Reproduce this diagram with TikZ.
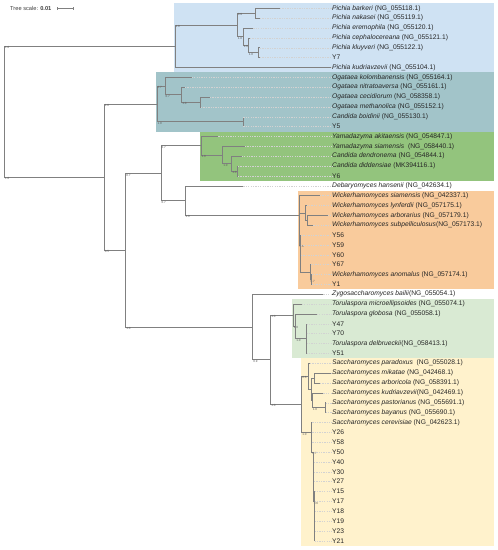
\documentclass[tikz,border=0pt]{standalone}
\usepackage{fontspec}
\setmainfont{Liberation Sans}
\definecolor{cblue}{HTML}{CFE2F3}
\definecolor{cteal}{HTML}{A2C4C9}
\definecolor{cgreen}{HTML}{93C47D}
\definecolor{corange}{HTML}{F9CB9C}
\definecolor{clgreen}{HTML}{D9EAD3}
\definecolor{cyellow}{HTML}{FFF2CC}
\definecolor{brc}{HTML}{808080}
\definecolor{dshc}{HTML}{D2D2D2}
\tikzset{
 br/.style={draw=brc, line width=0.55pt},
 dsh/.style={draw=dshc, line width=0.4pt, dash pattern=on 1.3pt off 1.1pt},
 leaflab/.style={anchor=west, inner sep=0pt, font=\fontsize{6.7}{7}\selectfont, text=black!85},
 bs/.style={anchor=north west, inner sep=0.4pt, font=\fontsize{3}{3}\selectfont, text=black!65},
}
\newcommand\mkleaf[4]{%
  \coordinate (t#1) at (#3,{8.3+9.86*#1});
  \node[leaflab] (l#1) at (332,{8.3+9.86*#1}) {#4};
  \draw[br] (#2) |- (t#1);
  \draw[dsh] (t#1) -- (l#1.west);
}
\newcommand\mkedge[3]{\draw[br] (#1) |- (#2); \node[bs] at (#1 |- #2) {#3};}
\newcommand\mkedgeN[2]{\draw[br] (#1) |- (#2);}
\begin{document}
\begin{tikzpicture}[x=1pt,y=-1pt]
\useasboundingbox (0,0) rectangle (498,550);
\fill[white] (0,0) rectangle (498,550);
% clade backgrounds
\fill[cblue]   (174,3.4)   rectangle (494,72.4);
\fill[cteal]   (156,72.4)  rectangle (494,131.55);
\fill[cgreen]  (200,131.55) rectangle (494,180.85);
\fill[corange] (298,190.7) rectangle (494,289.3);
\fill[clgreen] (292.3,299.2) rectangle (494,358.3);
\fill[cyellow] (300.7,358.3) rectangle (494,545.7);
% tree scale
\node[anchor=west, inner sep=0pt, font=\fontsize{5.7}{6}\selectfont, text=black!75] (ts) at (10,8.5) {Tree scale: \textbf{0.01}};
\coordinate (sb1) at (57,8.5);
\coordinate (sb2) at (73,8.5);
\draw[br] (sb1) -- (sb2);
\draw[br] ([yshift=-1.3pt]sb1) -- ([yshift=1.3pt]sb1);
\draw[br] ([yshift=-1.3pt]sb2) -- ([yshift=1.3pt]sb2);
% internal nodes
\coordinate (R) at (4.5,111.6);
\coordinate (PC) at (175,46.2);
\coordinate (PS) at (237.3,24.94);
\coordinate (BN) at (255,13.23);
\coordinate (ER) at (243.3,36.65);
\coordinate (CP) at (248.3,45.28);
\coordinate (KY) at (258.3,52.67);
\coordinate (A) at (104.3,176.9);
\coordinate (TN) at (157,103.82);
\coordinate (O1) at (165,85.95);
\coordinate (O2) at (181.7,94.58);
\coordinate (O3) at (200,101.97);
\coordinate (BY) at (243.3,121.69);
\coordinate (B) at (125.7,250);
\coordinate (C) at (161,173.3);
\coordinate (G) at (201,145.73);
\coordinate (SD) at (222.7,154.97);
\coordinate (DD) at (231.7,163.6);
\coordinate (DY) at (237.3,170.99);
\coordinate (D) at (185,200.5);
\coordinate (W) at (299,215);
\coordinate (L) at (305.7,212.9);
\coordinate (AS) at (307.5,220.29);
\coordinate (N) at (300.5,245);
\coordinate (N3) at (310,272.06);
\coordinate (N2) at (311,279.45);
\coordinate (E) at (252.7,327);
\coordinate (F) at (270.7,359.7);
\coordinate (T) at (293.3,315.2);
\coordinate (T2) at (295.7,326.28);
\coordinate (T3) at (306,338.61);
\coordinate (P) at (301.7,404.25);
\coordinate (S1) at (308.3,376.2);
\coordinate (MK) at (311,389.14);
\coordinate (M) at (314,378.05);
\coordinate (K) at (312.3,400.24);
\coordinate (PB) at (325,407.63);
\coordinate (S2) at (311.7,432.3);
\coordinate (S4) at (313.3,452);
\coordinate (S5) at (314,501.3);
% internal edges
\mkedge{R}{PC}{1.0}
\mkedge{R}{A}{1.0}
\mkedge{PC}{PS}{1.0}
\mkedge{PS}{BN}{0.9}
\mkedge{PS}{ER}{1.0}
\mkedge{ER}{CP}{1.0}
\mkedge{CP}{KY}{1.0}
\mkedge{A}{TN}{1.0}
\mkedge{A}{B}{0.5}
\mkedge{TN}{O1}{0.7}
\mkedge{TN}{BY}{1.0}
\mkedge{O1}{O2}{0.7}
\mkedge{O2}{O3}{1.0}
\mkedge{B}{C}{0.7}
\mkedge{B}{E}{1.0}
\mkedge{C}{G}{0.7}
\mkedge{C}{D}{0.7}
\mkedge{G}{SD}{1.0}
\mkedge{SD}{DD}{1.0}
\mkedge{DD}{DY}{1.0}
\mkedge{D}{W}{1.0}
\mkedgeN{W}{L}
\mkedge{W}{N}{0.8}
\mkedgeN{L}{AS}
\mkedgeN{N}{N3}
\mkedge{N3}{N2}{0.7}
\mkedge{E}{F}{0.9}
\mkedge{F}{T}{1.0}
\mkedge{F}{P}{1.0}
\mkedge{T}{T2}{1.0}
\mkedge{T2}{T3}{1.0}
\mkedge{P}{S1}{0.6}
\mkedge{P}{S2}{1.0}
\mkedgeN{S1}{MK}
\mkedgeN{MK}{M}
\mkedgeN{MK}{K}
\mkedge{K}{PB}{1.0}
\mkedge{S2}{S4}{0.7}
\mkedge{S4}{S5}{0.6}
% leaves
\mkleaf{0}{BN}{280}{\textit{Pichia barkeri} (NG\_055118.1)}
\mkleaf{1}{BN}{260}{\textit{Pichia nakasei} (NG\_055119.1)}
\mkleaf{2}{ER}{253.3}{\textit{Pichia eremophila} (NG\_055120.1)}
\mkleaf{3}{CP}{250}{\textit{Pichia cephalocereana} (NG\_055121.1)}
\mkleaf{4}{KY}{260}{\textit{Pichia kluyveri} (NG\_055122.1)}
\mkleaf{5}{KY}{260}{Y7}
\mkleaf{6}{PC}{331}{\textit{Pichia kudriavzevii} (NG\_055104.1)}
\mkleaf{7}{O1}{191.7}{\textit{Ogataea kolombanensis} (NG\_055164.1)}
\mkleaf{8}{O2}{185}{\textit{Ogataea nitratoaversa} (NG\_055161.1)}
\mkleaf{9}{O3}{210}{\textit{Ogataea cecidiorum} (NG\_058358.1)}
\mkleaf{10}{O3}{201}{\textit{Ogataea methanolica} (NG\_055152.1)}
\mkleaf{11}{BY}{243.3}{\textit{Candida boidinii} (NG\_055130.1)}
\mkleaf{12}{BY}{243.3}{Y5}
\mkleaf{13}{G}{218.3}{\textit{Yamadazyma akitaensis} (NG\_054847.1)}
\mkleaf{14}{SD}{245}{\textit{Yamadazyma siamensis}\ \ (NG\_058440.1)}
\mkleaf{15}{DD}{241.7}{\textit{Candida dendronema} (NG\_054844.1)}
\mkleaf{16}{DY}{238}{\textit{Candida diddensiae} (MK394116.1)}
\mkleaf{17}{DY}{238}{Y6}
\mkleaf{18}{D}{243.3}{\textit{Debaryomyces hansenii} (NG\_042634.1)}
\mkleaf{19}{W}{320}{\textit{Wickerhamomyces siamensis} (NG\_042337.1)}
\mkleaf{20}{L}{306.5}{\textit{Wickerhamomyces lynferdii} (NG\_057175.1)}
\mkleaf{21}{AS}{327.7}{\textit{Wickerhamomyces arborarius} (NG\_057179.1)}
\mkleaf{22}{AS}{313.3}{\textit{Wickerhamomyces subpelliculosus}(NG\_057173.1)}
\mkleaf{23}{N}{301}{Y56}
\mkleaf{24}{N}{301}{Y59}
\mkleaf{25}{N}{301}{Y60}
\mkleaf{26}{N3}{310.5}{Y67}
\mkleaf{27}{N2}{311.5}{\textit{Wickerhamomyces anomalus} (NG\_057174.1)}
\mkleaf{28}{N2}{311.5}{Y1}
\mkleaf{29}{E}{323.3}{\textit{Zygosaccharomyces bailii}(NG\_055054.1)}
\mkleaf{30}{T}{301.7}{\textit{Torulaspora microellipsoides} (NG\_055074.1)}
\mkleaf{31}{T2}{316.7}{\textit{Torulaspora globosa} (NG\_055058.1)}
\mkleaf{32}{T3}{306.5}{Y47}
\mkleaf{33}{T3}{306.5}{Y70}
\mkleaf{34}{T3}{306.5}{\textit{Torulaspora delbrueckii}(NG\_058413.1)}
\mkleaf{35}{T3}{306.5}{Y51}
\mkleaf{36}{S1}{310}{\textit{Saccharomyces paradoxus}\ \ (NG\_055028.1)}
\mkleaf{37}{M}{331}{\textit{Saccharomyces mikatae} (NG\_042468.1)}
\mkleaf{38}{M}{320}{\textit{Saccharomyces arboricola} (NG\_058391.1)}
\mkleaf{39}{K}{323.3}{\textit{Saccharomyces kudriavzevii}(NG\_042469.1)}
\mkleaf{40}{PB}{325.5}{\textit{Saccharomyces pastorianus} (NG\_055691.1)}
\mkleaf{41}{PB}{325.5}{\textit{Saccharomyces bayanus} (NG\_055690.1)}
\mkleaf{42}{S2}{312.2}{\textit{Saccharomyces cerevisiae} (NG\_042623.1)}
\mkleaf{43}{S2}{312.2}{Y26}
\mkleaf{44}{S2}{312.2}{Y58}
\mkleaf{45}{S4}{313.8}{Y50}
\mkleaf{46}{S4}{313.8}{Y40}
\mkleaf{47}{S4}{313.8}{Y30}
\mkleaf{48}{S4}{313.8}{Y27}
\mkleaf{49}{S5}{314.5}{Y15}
\mkleaf{50}{S5}{314.5}{Y17}
\mkleaf{51}{S5}{314.5}{Y18}
\mkleaf{52}{S5}{314.5}{Y19}
\mkleaf{53}{S5}{314.5}{Y23}
\mkleaf{54}{S5}{314.5}{Y21}
\end{tikzpicture}
\end{document}
